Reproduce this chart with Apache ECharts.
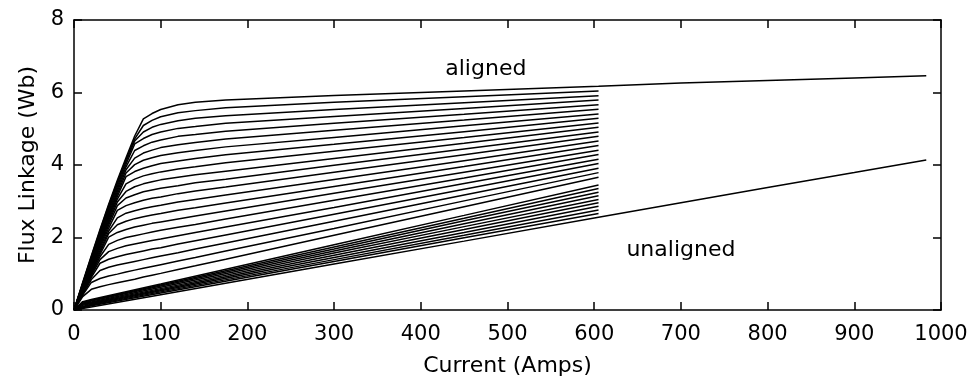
<!DOCTYPE html>
<html>
<head>
<meta charset="utf-8">
<script src="https://cdn.jsdelivr.net/npm/echarts@6/dist/echarts.min.js"></script>
<style>
  html, body { margin: 0; padding: 0; background: #fff; }
  #chart { width: 974px; height: 385px; }
</style>
</head>
<body>
<div id="chart"></div>
<script>
// Flux linkage (Wb) versus phase current (A), one curve per rotor position,
// from the aligned position down to the unaligned position.

const xTicks = [0, 100, 200, 300, 400, 500, 600, 700, 800, 900, 1000];
const yTicks = [0, 2, 4, 6, 8];

// aligned position (full current range)
const alignedCurrent = [0, 10, 20, 30, 40, 50, 60, 70, 80, 90, 100, 120, 140, 175, 300, 450, 605, 700, 800, 900, 983];
const fluxAligned    = [0, 0.76, 1.50, 2.22, 2.92, 3.58, 4.20, 4.80, 5.27, 5.42, 5.53, 5.66, 5.73, 5.79, 5.92, 6.04, 6.17, 6.26, 6.33, 6.40, 6.46];

// intermediate positions with a distinct saturation knee
const kneeCurrent = [0, 10, 20, 30, 40, 50, 60, 70, 80, 90, 100, 120, 140, 175, 300, 450, 605];
const fluxPos01 = [0, 0.74, 1.47, 2.19, 2.88, 3.53, 4.15, 4.72, 5.09, 5.23, 5.33, 5.44, 5.50, 5.58, 5.73, 5.88, 6.04];
const fluxPos02 = [0, 0.72, 1.44, 2.15, 2.83, 3.48, 4.09, 4.66, 4.91, 5.04, 5.12, 5.22, 5.29, 5.36, 5.53, 5.72, 5.91];
const fluxPos03 = [0, 0.71, 1.41, 2.10, 2.77, 3.41, 4.02, 4.58, 4.73, 4.84, 4.91, 5.01, 5.06, 5.15, 5.34, 5.56, 5.79];
const fluxPos04 = [0, 0.69, 1.38, 2.05, 2.71, 3.34, 3.95, 4.40, 4.53, 4.63, 4.69, 4.79, 4.84, 4.93, 5.15, 5.40, 5.66];
const fluxPos05 = [0, 0.68, 1.35, 2.01, 2.65, 3.27, 3.87, 4.19, 4.33, 4.41, 4.48, 4.56, 4.62, 4.72, 4.96, 5.24, 5.54];
const fluxPos06 = [0, 0.66, 1.32, 1.96, 2.59, 3.20, 3.78, 4.01, 4.13, 4.20, 4.26, 4.34, 4.40, 4.50, 4.76, 5.08, 5.41];
const fluxPos07 = [0, 0.65, 1.29, 1.91, 2.53, 3.13, 3.68, 3.82, 3.91, 3.98, 4.04, 4.11, 4.18, 4.28, 4.57, 4.92, 5.29];
const fluxPos08 = [0, 0.63, 1.26, 1.87, 2.47, 3.06, 3.48, 3.61, 3.70, 3.76, 3.81, 3.89, 3.95, 4.06, 4.38, 4.76, 5.16];
const fluxPos09 = [0, 0.62, 1.22, 1.82, 2.41, 2.98, 3.27, 3.40, 3.48, 3.54, 3.59, 3.66, 3.73, 3.83, 4.18, 4.60, 5.04];
const fluxPos10 = [0, 0.60, 1.19, 1.77, 2.34, 2.88, 3.09, 3.18, 3.26, 3.31, 3.36, 3.43, 3.51, 3.61, 3.99, 4.44, 4.91];
const fluxPos11 = [0, 0.58, 1.15, 1.71, 2.26, 2.75, 2.88, 2.96, 3.03, 3.08, 3.12, 3.21, 3.28, 3.39, 3.80, 4.28, 4.79];
const fluxPos12 = [0, 0.56, 1.11, 1.65, 2.18, 2.54, 2.67, 2.74, 2.80, 2.85, 2.89, 2.98, 3.05, 3.17, 3.60, 4.12, 4.66];
const fluxPos13 = [0, 0.54, 1.07, 1.59, 2.11, 2.35, 2.45, 2.52, 2.57, 2.62, 2.66, 2.75, 2.82, 2.95, 3.41, 3.96, 4.54];
const fluxPos14 = [0, 0.52, 1.03, 1.53, 2.01, 2.14, 2.22, 2.29, 2.34, 2.39, 2.43, 2.51, 2.59, 2.73, 3.22, 3.80, 4.41];
const fluxPos15 = [0, 0.50, 0.99, 1.47, 1.81, 1.92, 2.00, 2.05, 2.10, 2.15, 2.20, 2.28, 2.36, 2.51, 3.03, 3.64, 4.29];
const fluxPos16 = [0, 0.48, 0.95, 1.39, 1.61, 1.70, 1.77, 1.82, 1.87, 1.92, 1.96, 2.05, 2.14, 2.29, 2.83, 3.49, 4.16];
const fluxPos17 = [0, 0.46, 0.90, 1.29, 1.40, 1.47, 1.53, 1.58, 1.63, 1.68, 1.72, 1.82, 1.91, 2.07, 2.64, 3.33, 4.04];
const fluxPos18 = [0, 0.44, 0.84, 1.09, 1.18, 1.24, 1.29, 1.34, 1.39, 1.44, 1.49, 1.58, 1.68, 1.85, 2.45, 3.17, 3.91];
const fluxPos19 = [0, 0.41, 0.76, 0.87, 0.94, 0.99, 1.05, 1.10, 1.15, 1.20, 1.25, 1.35, 1.45, 1.63, 2.25, 3.01, 3.79];
const fluxPos20 = [0, 0.37, 0.57, 0.64, 0.70, 0.75, 0.80, 0.85, 0.91, 0.96, 1.01, 1.12, 1.22, 1.40, 2.06, 2.85, 3.66];

// positions close to unaligned: almost linear
const bandCurrent = [0, 10, 20, 100, 300, 450, 605];
const fluxPos21 = [0, 0.23, 0.29, 0.72, 1.80, 2.61, 3.45];
const fluxPos22 = [0, 0.21, 0.27, 0.69, 1.74, 2.53, 3.35];
const fluxPos23 = [0, 0.19, 0.25, 0.66, 1.68, 2.46, 3.25];
const fluxPos24 = [0, 0.17, 0.22, 0.63, 1.63, 2.38, 3.15];
const fluxPos25 = [0, 0.16, 0.20, 0.59, 1.57, 2.30, 3.05];
const fluxPos26 = [0, 0.13, 0.18, 0.56, 1.51, 2.22, 2.96];
const fluxPos27 = [0, 0.10, 0.16, 0.53, 1.45, 2.14, 2.86];
const fluxPos28 = [0, 0.08, 0.14, 0.50, 1.39, 2.06, 2.76];
const fluxPos29 = [0, 0.06, 0.12, 0.47, 1.34, 1.99, 2.66];

// unaligned position (full current range)
const unalignedCurrent = [0, 100, 300, 450, 605, 700, 800, 900, 983];
const fluxUnaligned    = [0, 0.42, 1.27, 1.90, 2.56, 2.96, 3.38, 3.79, 4.14];

// curve annotations [current, flux]
const annotationText = ['aligned', 'unaligned'];
const annotationAt   = [[475, 6.63], [700, 1.65]];

const kneeCurves = [fluxPos01, fluxPos02, fluxPos03, fluxPos04, fluxPos05, fluxPos06, fluxPos07,
  fluxPos08, fluxPos09, fluxPos10, fluxPos11, fluxPos12, fluxPos13, fluxPos14, fluxPos15,
  fluxPos16, fluxPos17, fluxPos18, fluxPos19, fluxPos20];
const bandCurves = [fluxPos21, fluxPos22, fluxPos23, fluxPos24, fluxPos25, fluxPos26,
  fluxPos27, fluxPos28, fluxPos29];

const pair = (xs, ys) => ys.map((y, i) => [xs[i], y]);

const FONT = 'DejaVu Sans';
const lineStyle = { color: '#000', width: 1.5 };

function curve(name, xs, ys) {
  return {
    name, type: 'line', data: pair(xs, ys),
    showSymbol: false, symbol: 'none', silent: true,
    lineStyle, clip: true
  };
}

const series = [];
series.push(curve('aligned', alignedCurrent, fluxAligned));
kneeCurves.forEach((ys, i) => series.push(curve('pos' + (i + 1), kneeCurrent, ys)));
bandCurves.forEach((ys, i) => series.push(curve('pos' + (i + 21), bandCurrent, ys)));
series.push(curve('unaligned', unalignedCurrent, fluxUnaligned));
series.push({
  type: 'scatter', silent: true, symbolSize: 1,
  itemStyle: { color: 'rgba(0,0,0,0)', opacity: 1 },
  data: annotationText.map((t, i) => ({ name: t, value: annotationAt[i] })),
  label: {
    show: true, position: 'inside', formatter: '{b}', opacity: 1,
    color: '#000', textBorderWidth: 0, fontSize: 22, fontFamily: FONT
  }
});

const axisLine = { show: true, onZero: false, lineStyle: { color: '#000', width: 1.5 } };
const tick = { show: true, inside: true, length: 8, lineStyle: { color: '#000', width: 1.5 } };
const label = { color: '#000', fontSize: 21, fontFamily: FONT, formatter: v => String(v) };

const chart = echarts.init(document.getElementById('chart'), null, { renderer: 'canvas' });
chart.setOption({
  animation: false,
  backgroundColor: '#fff',
  grid: { left: 74, right: 33, top: 20, bottom: 75 },
  xAxis: [
    {
      type: 'value', position: 'bottom',
      min: xTicks[0], max: xTicks[xTicks.length - 1], interval: xTicks[1] - xTicks[0],
      axisLine, axisTick: tick, splitLine: { show: false },
      axisLabel: Object.assign({ margin: 14 }, label),
      name: 'Current (Amps)', nameLocation: 'middle', nameGap: 45,
      nameTextStyle: { color: '#000', fontSize: 22, fontFamily: FONT }
    },
    {
      type: 'value', position: 'top',
      min: xTicks[0], max: xTicks[xTicks.length - 1], interval: xTicks[1] - xTicks[0],
      axisLine, axisTick: tick, splitLine: { show: false }, axisLabel: { show: false }
    }
  ],
  yAxis: [
    {
      type: 'value', position: 'left',
      min: yTicks[0], max: yTicks[yTicks.length - 1], interval: yTicks[1] - yTicks[0],
      axisLine, axisTick: tick, splitLine: { show: false },
      axisLabel: Object.assign({ margin: 10 }, label),
      name: 'Flux Linkage (Wb)', nameLocation: 'middle', nameGap: 34,
      nameTextStyle: { color: '#000', fontSize: 22, fontFamily: FONT }
    },
    {
      type: 'value', position: 'right',
      min: yTicks[0], max: yTicks[yTicks.length - 1], interval: yTicks[1] - yTicks[0],
      axisLine, axisTick: tick, splitLine: { show: false }, axisLabel: { show: false }
    }
  ],
  series
});
</script>
</body>
</html>
